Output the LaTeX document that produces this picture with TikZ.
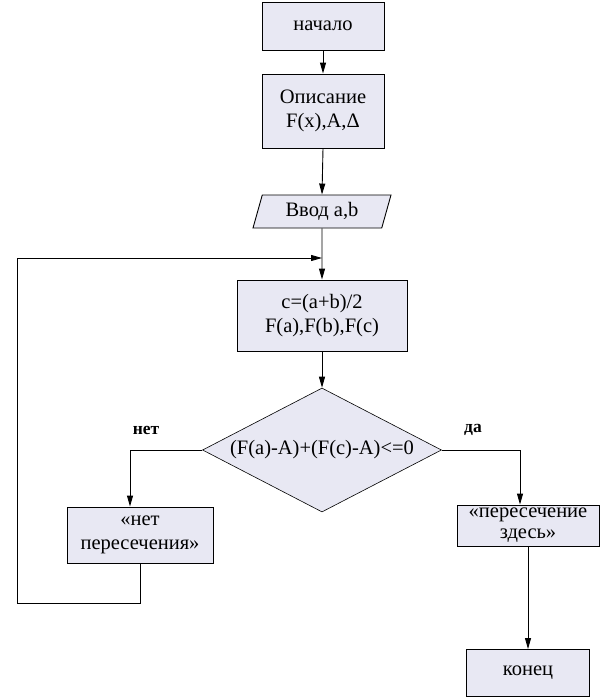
\documentclass[tikz,border=0pt]{standalone}
\usepackage{fontspec}
\setmainfont{Liberation Serif}
\usetikzlibrary{arrows.meta,shapes.geometric}
\definecolor{boxfill}{RGB}{232,232,243}
\begin{document}
\begin{tikzpicture}[x=1pt,y=-1pt,
  every node/.style={font=\fontsize{20.5}{24}\selectfont},
  blk/.style={draw=black, line width=0.9pt, fill=boxfill, rectangle, inner sep=0pt, align=center},
  io/.style={draw=black, line width=0.9pt, fill=boxfill, trapezium, trapezium left angle=63, trapezium right angle=117, trapezium stretches body, inner sep=0pt, align=center},
  dec/.style={draw=black, line width=0.6pt, fill=boxfill, diamond, inner sep=0pt, aspect=1.93},
  lbl/.style={font=\fontsize{17.5}{20}\selectfont\bfseries},
  arr/.style={draw=black, line width=0.9pt, -{Triangle[length=11pt,width=6pt]}},
  ln/.style={draw=black, line width=0.9pt}]
\useasboundingbox (0,0) rectangle (600,699);
\node[blk, minimum width=122pt, minimum height=48pt] (start) at (323,26) {начало};
\node[blk, minimum width=122pt, minimum height=74pt] (desc) at (323,111) {Описание\\F(x),A,Δ};
\node[io, minimum width=138pt, minimum height=33pt] (input) at (322,211.5) {Ввод a,b};
\node[blk, minimum width=170pt, minimum height=71pt] (calc) at (322,315.5) {c=(a+b)/2\\F(a),F(b),F(c)};
\node[dec, minimum width=239pt, minimum height=124pt] (decision) at (322,450) {(F(a)-A)+(F(c)-A)<=0};
\node[blk, minimum width=146pt, minimum height=56pt] (no) at (140,535) {«нет\\пересечения»};
\node[blk, minimum width=142pt, minimum height=41pt, font=\fontsize{20.5}{21}\selectfont] (yes) at (528,525.5) {«пересечение\\здесь»};
\node[blk, minimum width=123pt, minimum height=47pt] (end) at (528,673) {конец};
\node[lbl] (nolbl) at (146,430) {нет};
\node[lbl] (yeslbl) at (473,430) {да};
\coordinate (nl) at (130,0);
\coordinate (yr) at (520,0);
\coordinate (loopbl) at (17,603);
\coordinate (merge) at (322,258);
\draw[arr] (start.south) -- (desc.north);
\draw[arr] (desc.south) -- (input.north);
\draw[arr] (input.south) -- (calc.north);
\draw[arr] (calc.south) -- (decision.north);
\draw[arr] (decision.west) -| (nl |- no.north);
\draw[arr] (decision.east) -| (yr |- yes.north);
\draw[arr] (yes.south) -- (end.north);
\draw[arr] (no.south) |- (loopbl) |- (merge);
\end{tikzpicture}
\end{document}
